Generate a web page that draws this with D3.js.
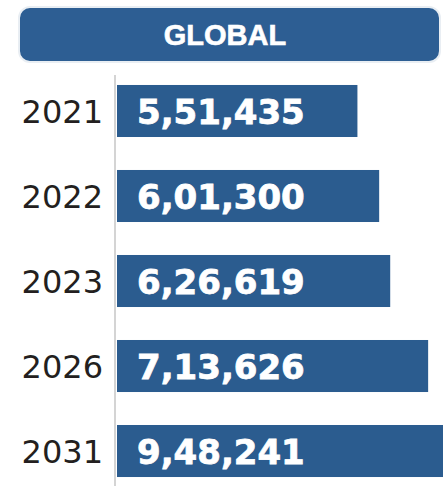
<!DOCTYPE html>
<html>
<head>
<meta charset="utf-8">
<script src="https://cdn.jsdelivr.net/npm/d3@7"></script>
<style>
  html, body { margin: 0; padding: 0; background: #fff; }
  svg { display: block; }
</style>
</head>
<body>
<script>
// data
var title = "GLOBAL";
var years = ["2021", "2022", "2023", "2026", "2031"];
var values = [551435, 601300, 626619, 713626, 948241];
var labels = ["5,51,435", "6,01,300", "6,26,619", "7,13,626", "9,48,241"];

var w = 443, h = 486,
    barColor = "#2b5c8f";

var svg = d3.select("body").append("svg")
    .attr("width", w)
    .attr("height", h);

// header pill
svg.append("rect")
    .attr("x", 19).attr("y", 7)
    .attr("width", 421).attr("height", 55)
    .attr("rx", 11)
    .attr("fill", "#2d5e93")
    .attr("stroke", "#e9eef3")
    .attr("stroke-width", 2);

svg.append("text")
    .attr("x", 225).attr("y", 45)
    .attr("text-anchor", "middle")
    .attr("font-family", "Liberation Sans, Arial, sans-serif")
    .attr("font-weight", "bold")
    .attr("font-size", 29)
    .attr("fill", "#fff")
    .attr("stroke", "#fff")
    .attr("stroke-width", 0.6)
    .text(title);

var x = d3.scaleLinear()
    .domain([0, 1000000])
    .range([117, 117 + 436]);

var y = d3.scaleBand()
    .domain(years)
    .range([52, 510])
    .padding(0.388);

// thin axis line
svg.append("line")
    .attr("x1", 115).attr("x2", 115)
    .attr("y1", 75).attr("y2", h)
    .attr("stroke", "#d4d4d4")
    .attr("stroke-width", 2);

var rows = svg.selectAll("g.row")
    .data(values)
    .enter()
    .append("g")
    .attr("class", "row");

rows.append("rect")
    .attr("x", x(0))
    .attr("y", function(d, i) { return y(years[i]); })
    .attr("width", function(d) { return x(d) - x(0); })
    .attr("height", y.bandwidth())
    .attr("fill", barColor);

rows.append("text")
    .attr("x", 137)
    .attr("y", function(d, i) { return y(years[i]) + y.bandwidth() / 2 + 13; })
    .attr("font-family", "DejaVu Sans, sans-serif")
    .attr("font-weight", "bold")
    .attr("font-size", 34)
    .attr("fill", "#fff")
    .attr("stroke", "#fff")
    .attr("stroke-width", 0.8)
    .text(function(d, i) { return labels[i]; });

// year labels
rows.append("text")
    .attr("x", 103)
    .attr("y", function(d, i) { return y(years[i]) + y.bandwidth() / 2 + 12; })
    .attr("text-anchor", "end")
    .attr("font-family", "DejaVu Sans, sans-serif")
    .attr("font-size", 32)
    .attr("fill", "#231f20")
    .text(function(d, i) { return years[i]; });
</script>
</body>
</html>
